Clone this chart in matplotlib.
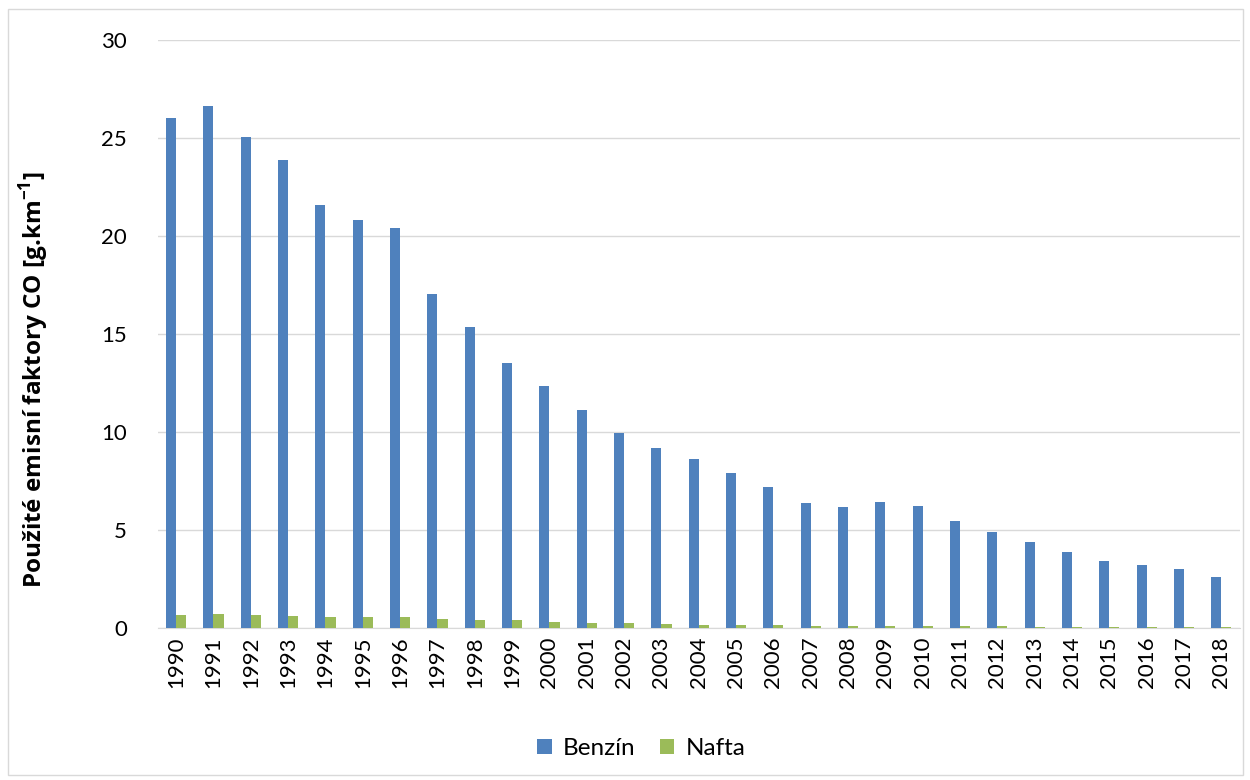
import numpy as np
import matplotlib.pyplot as plt
from matplotlib.patches import Rectangle

plt.rcParams['font.family'] = ['Lato', 'DejaVu Sans']
plt.rcParams['axes.unicode_minus'] = False

years = [str(y) for y in range(1990, 2019)]
benzin = [26.0, 26.6, 25.05, 23.85, 21.55, 20.8, 20.4, 17.05, 15.35, 13.5,
          12.35, 11.1, 9.95, 9.2, 8.6, 7.9, 7.2, 6.35, 6.15, 6.4,
          6.2, 5.45, 4.9, 4.4, 3.85, 3.4, 3.2, 3.0, 2.6]
nafta = [0.68, 0.7, 0.68, 0.62, 0.58, 0.55, 0.55, 0.46, 0.42, 0.38,
         0.32, 0.27, 0.24, 0.2, 0.17, 0.17, 0.13, 0.12, 0.1, 0.1,
         0.1, 0.08, 0.08, 0.07, 0.07, 0.07, 0.07, 0.05, 0.05]

fig = plt.figure(figsize=(12.5, 7.8), dpi=100)
ax = fig.add_axes([0.126, 0.195, 0.866, 0.754])

x = np.arange(len(years))
w = 0.27
ax.bar(x - w / 2, benzin, w, color='#4f81bd', label='Benzín', zorder=3)
ax.bar(x + w / 2, nafta, w, color='#9bbb59', label='Nafta', zorder=3)

ax.set_xlim(-0.5, len(years) - 0.5)
ax.set_ylim(0, 30)
ax.set_yticks(range(0, 31, 5))
ax.set_xticks(x)
ax.set_xticklabels(years, rotation=90, fontsize=16)
ax.tick_params(axis='y', labelsize=16, length=0, pad=22)
ax.tick_params(axis='x', length=0, pad=6)
ax.grid(axis='y', color='#d9d9d9', linewidth=1, zorder=0)
for s in ['top', 'right', 'left']:
    ax.spines[s].set_visible(False)
ax.spines['bottom'].set_color('#d9d9d9')

ax.set_ylabel('Použité emisní faktory CO [g.km$^{\\mathregular{-1}}$]',
              fontsize=17.5, fontweight='bold', family=['Open Sans', 'DejaVu Sans'])
ax.yaxis.set_label_coords(-0.098, 0.423)

fig.legend(loc='center', bbox_to_anchor=(0.513, 0.04), ncol=2, frameon=False,
           prop={'size': 17.5}, handlelength=0.6, handleheight=0.6, columnspacing=1.0,
           handletextpad=0.45)

fig.patches.append(Rectangle((0.006, 0.006), 0.988, 0.982, transform=fig.transFigure,
                             fill=False, edgecolor='#d9d9d9', linewidth=1))

plt.savefig('out.png', dpi=100)
